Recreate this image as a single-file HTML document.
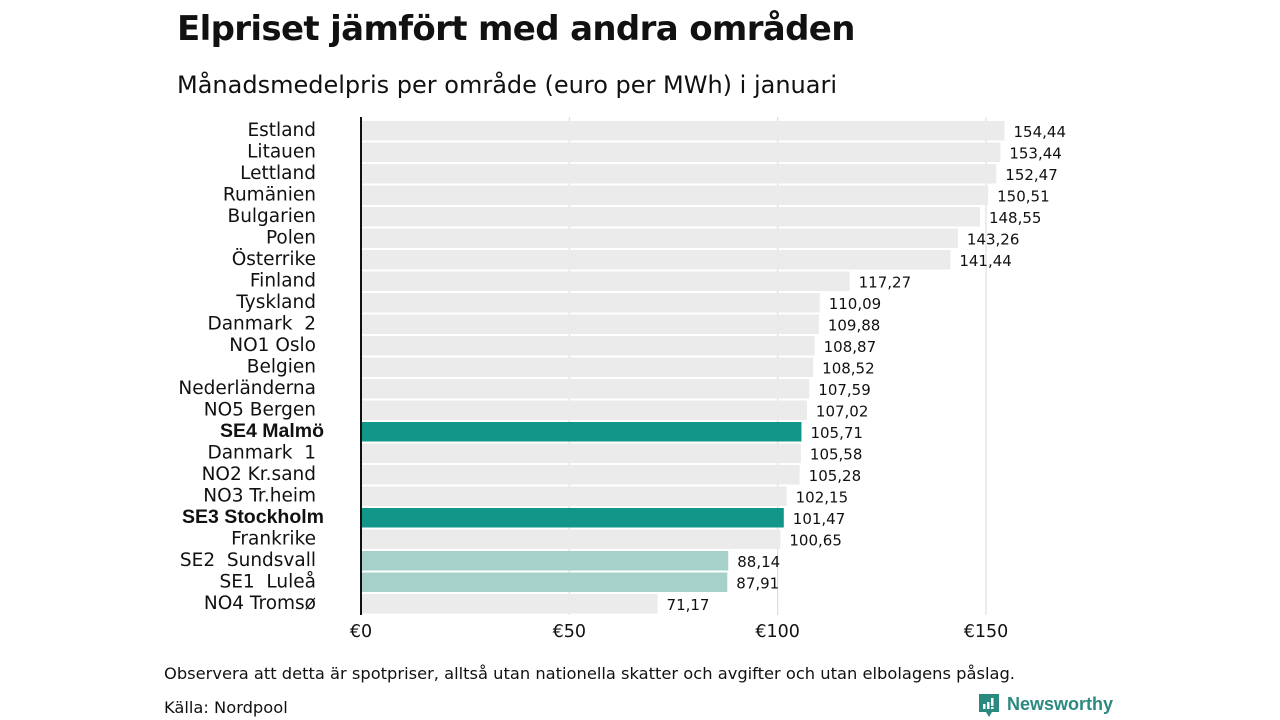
<!DOCTYPE html>
<html><head><meta charset="utf-8"><style>
body{margin:0;width:1280px;height:720px;background:#fff;overflow:hidden;font-family:"DejaVu Sans","Liberation Sans",sans-serif;}
.t{position:absolute;white-space:nowrap;color:#111}
</style></head><body>
<div class="t" style="left:177px;top:9px;font-size:34px;font-weight:bold;font-family:'DejaVu Sans',sans-serif;letter-spacing:-0.65px">Elpriset jämfört med andra områden</div>
<div class="t" style="left:177px;top:71px;font-size:24px">Månadsmedelpris per område (euro per MWh) i januari</div>
<svg id="chart" width="1280" height="720" style="position:absolute;left:0;top:0"></svg>
<div class="t" style="left:164px;top:664px;font-size:16.3px">Observera att detta är spotpriser, alltså utan nationella skatter och avgifter och utan elbolagens påslag.</div>
<div class="t" style="left:164px;top:698px;font-size:16.3px">Källa: Nordpool</div>
<div style="position:absolute;left:979px;top:694px;">
<svg width="22" height="24" style="position:absolute;left:0;top:0"><path d="M0 0H20V18H13L10 23L7 18H0Z" fill="#2a8a80"/><rect x="4" y="10" width="2.5" height="5" fill="#fff"/><rect x="8" y="8" width="2.5" height="7" fill="#fff"/><rect x="12" y="4" width="2.5" height="8" fill="#fff"/><rect x="12" y="13" width="2.5" height="2" fill="#fff"/></svg>
<span class="t" style="left:28px;top:0px;font-size:18px;font-weight:bold;color:#2a8a80;font-family:'Liberation Sans',sans-serif">Newsworthy</span></div>
<script>
const categories=["Estland","Litauen","Lettland","Rumänien","Bulgarien","Polen","Österrike","Finland","Tyskland","Danmark  2","NO1 Oslo","Belgien","Nederländerna","NO5 Bergen","SE4 Malmö","Danmark  1","NO2 Kr.sand","NO3 Tr.heim","SE3 Stockholm","Frankrike","SE2  Sundsvall","SE1  Luleå","NO4 Tromsø"];
const values=[154.44,153.44,152.47,150.51,148.55,143.26,141.44,117.27,110.09,109.88,108.87,108.52,107.59,107.02,105.71,105.58,105.28,102.15,101.47,100.65,88.14,87.91,71.17];
const highlight=["","","","","","","","","","","","","","","dark","","","","dark","","light","light",""];
const ticks=[0,50,100,150];
const tickLabels=["€0","€50","€100","€150"];
const svg=document.getElementById('chart');const NS='http://www.w3.org/2000/svg';
const x=v=>361+v*(625/150);
const y=i=>121+i*21.5;
function mk(t,a){const e=document.createElementNS(NS,t);for(const k in a)e.setAttribute(k,a[k]);svg.appendChild(e);return e;}
ticks.forEach((t,i)=>{
 if(t>0){const g=mk('line',{x1:x(t),x2:x(t),y1:117,y2:615,stroke:'#d8d8d8','stroke-width':1});
 
 }
 const l=mk('text',{x:x(t),y:637,'text-anchor':'middle','font-size':17.5,fill:'#111'});l.textContent=tickLabels[i];
 
 
});
categories.forEach((c,i)=>{
 const col=highlight[i]=='dark'?'#12968a':highlight[i]=='light'?'#a6d0ca':'#ebebeb';
 const r=mk('rect',{x:x(0),y:y(i),width:x(values[i])-x(0),height:19.5,fill:col});
 
 
 const bold=highlight[i]=='dark';
 const l=mk('text',{x:bold?324:316,y:y(i)+15,'text-anchor':'end','font-size':bold?19.5:18.5,fill:'#111','font-weight':bold?'bold':'normal','font-family':bold?'Liberation Sans, sans-serif':'DejaVu Sans, sans-serif'});
 l.textContent=c;l.style.whiteSpace='pre';
 
 
 const v=mk('text',{x:x(values[i])+9,y:y(i)+16,'font-size':15,fill:'#111'});
 v.textContent=values[i].toFixed(2).replace('.',',');
 
 
});
const ax=mk('line',{x1:361,x2:361,y1:117,y2:615,stroke:'#111','stroke-width':2});


</script>
</body></html>
